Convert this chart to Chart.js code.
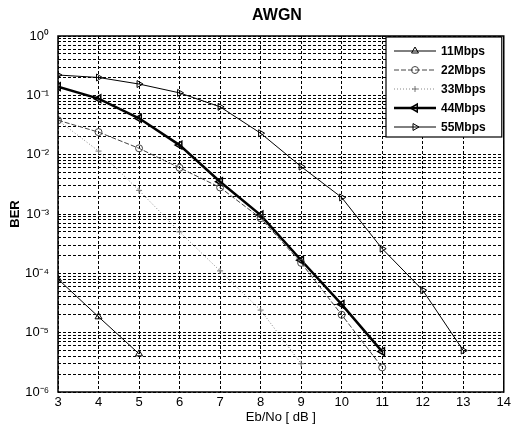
<!DOCTYPE html>
<html><head><meta charset="utf-8">
<script src="https://cdn.jsdelivr.net/npm/chart.js@4.4.0/dist/chart.umd.min.js"></script>
<style>html,body{margin:0;padding:0;background:#fff}#wrap{width:514px;height:425px}</style>
</head><body><div id="wrap"><canvas id="c" width="514" height="425"></canvas></div>
<script>
// ---- data ----
const ebNo = [3, 4, 5, 6, 7, 8, 9, 10, 11, 12, 13];
const ber11 = [8e-5, 1.85e-5, 4.4e-6, null, null, null, null, null, null, null, null];
const ber22 = [0.038, 0.024, 0.0128, 0.006, 0.0028, 8.5e-4, 1.5e-4, 2.0e-5, 2.6e-6, null, null];
const ber33 = [0.038, 0.0115, 0.0025, 5.0e-4, 1.1e-4, 2.4e-5, 3.0e-6, null, null, null, null];
const ber44 = [0.14, 0.088, 0.041, 0.0145, 0.0035, 9.6e-4, 1.66e-4, 3.0e-5, 4.8e-6, null, null];
const ber55 = [0.22, 0.20, 0.155, 0.11, 0.064, 0.023, 0.0063, 0.0019, 2.6e-4, 5.2e-5, 5.0e-6];
const seriesNames = ['11Mbps', '22Mbps', '33Mbps', '44Mbps', '55Mbps'];
const xTickValues = [3, 4, 5, 6, 7, 8, 9, 10, 11, 12, 13, 14];
const decadeExps = [0, -1, -2, -3, -4, -5, -6];
const titleText = 'AWGN';
const xTitle = 'Eb/No [ dB ]';
const yTitle = 'BER';

const FONT = "'Liberation Sans', Arial, sans-serif";
const supMap = {'0':'⁰','1':'¹','2':'²','3':'³','4':'⁴','5':'⁵','6':'⁶','7':'⁷','8':'⁸','9':'⁹','-':'⁻'};
const sup = n => String(n).split('').map(c => supMap[c]).join('');

// all log grid values 1..9 x 10^e
const yGridValues = [];
decadeExps.slice().sort((a,b)=>a-b).forEach(e => {
  for (let m = 1; m <= 9; m++) {
    const v = m * Math.pow(10, e);
    if (v <= 1.0000001) yGridValues.push(v);
  }
});

const toXY = arr => ebNo.map((x, i) => ({x: x, y: arr[i]})).filter(p => p.y !== null);

const mk = (label, arr, o) => Object.assign({
  label, data: toXY(arr), borderColor: '#000', backgroundColor: 'rgba(0,0,0,0)',
  pointBackgroundColor: 'rgba(0,0,0,0)', borderWidth: 1, pointRadius: 4,
  pointBorderWidth: 1, tension: 0, fill: false
}, o);

const datasets = [
  mk(seriesNames[0], ber11, {pointStyle: 'triangle', pointBorderColor: '#000'}),
  mk(seriesNames[1], ber22, {borderColor: '#444', pointBorderColor: '#444', pointStyle: 'circle', borderDash: [5, 2], pointRadius: 3.5}),
  mk(seriesNames[2], ber33, {borderColor: '#888', pointBorderColor: '#777', pointStyle: 'cross', borderDash: [1, 2], pointRadius: 3}),
  mk(seriesNames[3], ber44, {borderWidth: 2.5, pointStyle: 'triangle', pointRotation: -90, pointBorderColor: '#000', pointBorderWidth: 1.5, pointRadius: 4.5}),
  mk(seriesNames[4], ber55, {pointStyle: 'triangle', pointRotation: 90, pointBorderColor: '#000'})
];

const framePlugin = {
  id: 'frameAndLegend',
  afterDraw(chart) {
    const ctx = chart.ctx, a = chart.chartArea;
    ctx.save();
    ctx.strokeStyle = '#000'; ctx.lineWidth = 1.5; ctx.setLineDash([]);
    ctx.strokeRect(a.left, a.top, a.right - a.left, a.bottom - a.top);
    // title
    ctx.fillStyle = '#000';
    ctx.font = "bold 16px " + FONT;
    ctx.textAlign = 'center'; ctx.textBaseline = 'middle';
    ctx.fillText(titleText, 277, 16);
    // legend box
    const x0 = 386, y0 = a.top + 1, w = a.right - 386 - 2, h = 100;
    ctx.fillStyle = '#fff'; ctx.fillRect(x0, y0, w, h);
    ctx.lineWidth = 1.2; ctx.strokeStyle = '#000'; ctx.strokeRect(x0, y0, w, h);
    chart.data.datasets.forEach((ds, i) => {
      const y = y0 + 14 + i * 19;
      ctx.save();
      ctx.setLineDash(ds.borderDash || []);
      ctx.lineWidth = ds.borderWidth; ctx.strokeStyle = ds.borderColor;
      ctx.beginPath(); ctx.moveTo(x0 + 8, y); ctx.lineTo(x0 + 50, y); ctx.stroke();
      ctx.setLineDash([]);
      ctx.strokeStyle = ds.pointBorderColor; ctx.fillStyle = 'rgba(0,0,0,0)';
      ctx.lineWidth = ds.pointBorderWidth;
      Chart.helpers.drawPoint(ctx, {pointStyle: ds.pointStyle, rotation: ds.pointRotation || 0,
        radius: ds.pointRadius, borderWidth: ds.pointBorderWidth}, x0 + 29, y);
      ctx.restore();
      ctx.fillStyle = '#000'; ctx.font = "bold 12px " + FONT;
      ctx.textAlign = 'left'; ctx.textBaseline = 'middle';
      ctx.fillText(ds.label, x0 + 55, y + 1);
    });
    ctx.restore();
  }
};

new Chart(document.getElementById('c'), {
  type: 'line',
  data: {datasets},
  plugins: [framePlugin],
  options: {
    responsive: false, animation: false, devicePixelRatio: 1,
    layout: {padding: {top: 36, left: 0, right: 5, bottom: 0}},
    plugins: {legend: {display: false}, title: {display: false}, tooltip: {enabled: false}},
    scales: {
      x: {
        type: 'linear', min: 3, max: 14,
        afterBuildTicks: s => { s.ticks = xTickValues.map(v => ({value: v})); },
        afterFit: s => { s.height = 33; },
        ticks: {color: '#000', font: {family: FONT, size: 13}, padding: 3, maxRotation: 0, autoSkip: false},
        grid: {color: '#000', lineWidth: 1, drawTicks: false},
        border: {display: false, dash: [3, 2]},
        title: {display: true, text: xTitle, color: '#000', font: {family: FONT, size: 13}, padding: {top: 0, bottom: 0}}
      },
      y: {
        type: 'logarithmic', min: 1e-6, max: 1,
        afterBuildTicks: s => { s.ticks = yGridValues.map(v => ({value: v})); },
        afterFit: s => { s.width = 58; },
        ticks: {color: '#000', font: {family: FONT, size: 13}, padding: 9, autoSkip: false,
          callback: v => { const l = Math.log10(v), e = Math.round(l); return Math.abs(l - e) < 1e-6 ? '10' + sup(e) : ''; }},
        grid: {color: '#000', lineWidth: 1, drawTicks: false},
        border: {display: false, dash: [3, 2]},
        title: {display: true, text: yTitle, color: '#000', font: {family: FONT, size: 13, weight: 'bold'}, padding: {top: 8, bottom: 0}}
      }
    }
  }
});
</script></body></html>
